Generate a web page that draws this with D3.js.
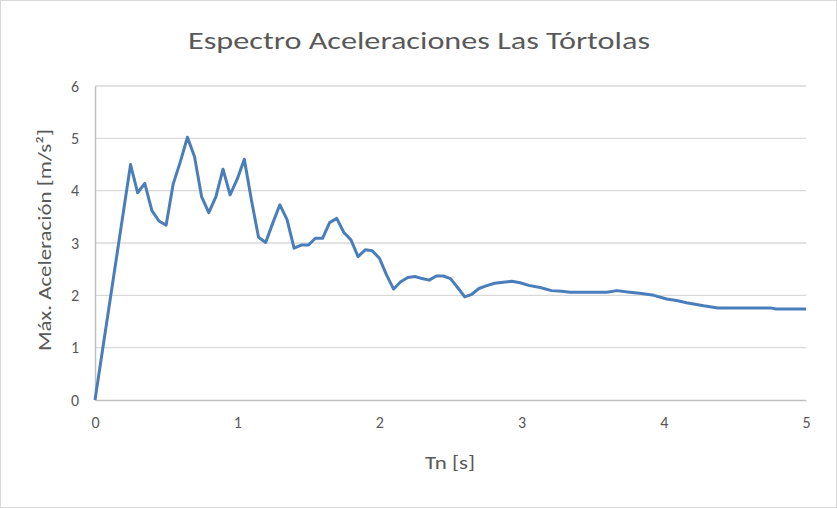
<!DOCTYPE html>
<html><head><meta charset="utf-8">
<script src="https://cdn.jsdelivr.net/npm/d3@7"></script>
<style>body{margin:0;background:#fff}svg{display:block}</style>
</head><body>
<script>
const periods = [0,0.25,0.30,0.35,0.40,0.45,0.50,0.55,0.60,0.65,0.70,0.75,0.80,0.85,0.90,0.95,1.00,1.05,1.10,1.15,1.20,1.25,1.30,1.35,1.40,1.45,1.50,1.55,1.60,1.65,1.70,1.75,1.80,1.85,1.90,1.95,2.00,2.05,2.10,2.15,2.20,2.25,2.30,2.35,2.40,2.45,2.50,2.55,2.60,2.65,2.70,2.75,2.81,2.87,2.93,2.99,3.05,3.13,3.21,3.28,3.34,3.60,3.67,3.76,3.83,3.93,4.02,4.09,4.16,4.28,4.38,4.75,4.79,5.00];
const accel = [0,4.50,3.96,4.14,3.62,3.42,3.34,4.13,4.55,5.02,4.65,3.88,3.58,3.88,4.41,3.92,4.22,4.60,3.82,3.11,3.01,3.38,3.73,3.45,2.90,2.96,2.96,3.09,3.09,3.39,3.47,3.20,3.06,2.74,2.87,2.85,2.71,2.39,2.12,2.26,2.34,2.36,2.32,2.29,2.37,2.37,2.32,2.15,1.97,2.02,2.13,2.18,2.23,2.25,2.27,2.24,2.19,2.15,2.09,2.08,2.06,2.06,2.09,2.06,2.04,2.00,1.93,1.90,1.86,1.80,1.76,1.76,1.74,1.74];
const xTicks = [0,1,2,3,4,5];
const yTicks = [0,1,2,3,4,5,6];
const title = "Espectro Aceleraciones Las Tórtolas";
const xLabel = "Tn [s]";
const yLabel = "Máx. Aceleración [m/s²]";

const W = 837, H = 508;
const svg = d3.select("body").append("svg").attr("width", W).attr("height", H);
svg.append("rect").attr("x",0.5).attr("y",0.5).attr("width",W-1).attr("height",H-1)
  .attr("fill","#fff").attr("stroke","#d9d9d9");

const x = d3.scaleLinear().domain([0,5]).range([95,806]);
const y = d3.scaleLinear().domain([0,6]).range([400,86]);
const font = "Calibri, 'Liberation Sans Narrow', 'Open Sans', sans-serif";
const txt = "#595959";

// gridlines
svg.append("g").selectAll("line").data(yTicks.filter(d=>d>0)).join("line")
  .attr("x1", x(0)).attr("x2", x(5)).attr("y1", d=>y(d)).attr("y2", d=>y(d))
  .attr("stroke","#d9d9d9").attr("stroke-width",1.3);

// axes
const xAxis = d3.axisBottom(x).tickValues(xTicks).tickSize(0).tickPadding(17).tickFormat(d3.format("d"));
const gx = svg.append("g").attr("transform",`translate(0,${y(0)})`).call(xAxis);
gx.select(".domain").attr("stroke","#bfbfbf").attr("stroke-width",1.5);
gx.selectAll("text").attr("fill",txt).style("font-family",font).style("font-size","16px");

const yAxis = d3.axisLeft(y).tickValues(yTicks).tickSize(0).tickPadding(16).tickFormat(d3.format("d"));
const gy = svg.append("g").attr("transform",`translate(${x(0)},0)`).call(yAxis);
gy.select(".domain").attr("stroke","#bfbfbf").attr("stroke-width",1.5);
gy.selectAll("text").attr("fill",txt).style("font-family",font).style("font-size","16px");

// line
const line = d3.line().x((d,i)=>x(periods[i])).y(d=>y(d));
svg.append("path").datum(accel).attr("d", line).attr("fill","none")
  .attr("stroke","#4a7ebb").attr("stroke-width",3).attr("stroke-linejoin","round");

// texts
svg.append("text").attr("x",419).attr("y",49).attr("text-anchor","middle")
  .attr("fill",txt).style("font-family",font).style("font-size","25px")
  .attr("textLength",462).attr("lengthAdjust","spacingAndGlyphs").text(title);
svg.append("text").attr("x",450).attr("y",469).attr("text-anchor","middle")
  .attr("fill",txt).style("font-family",font).style("font-size","19px")
  .attr("textLength",50).attr("lengthAdjust","spacingAndGlyphs").text(xLabel);
svg.append("text").attr("transform","translate(51,240) rotate(-90)").attr("text-anchor","middle")
  .attr("fill",txt).style("font-family",font).style("font-size","19px")
  .attr("textLength",222).attr("lengthAdjust","spacingAndGlyphs").text(yLabel);
</script>
</body></html>
